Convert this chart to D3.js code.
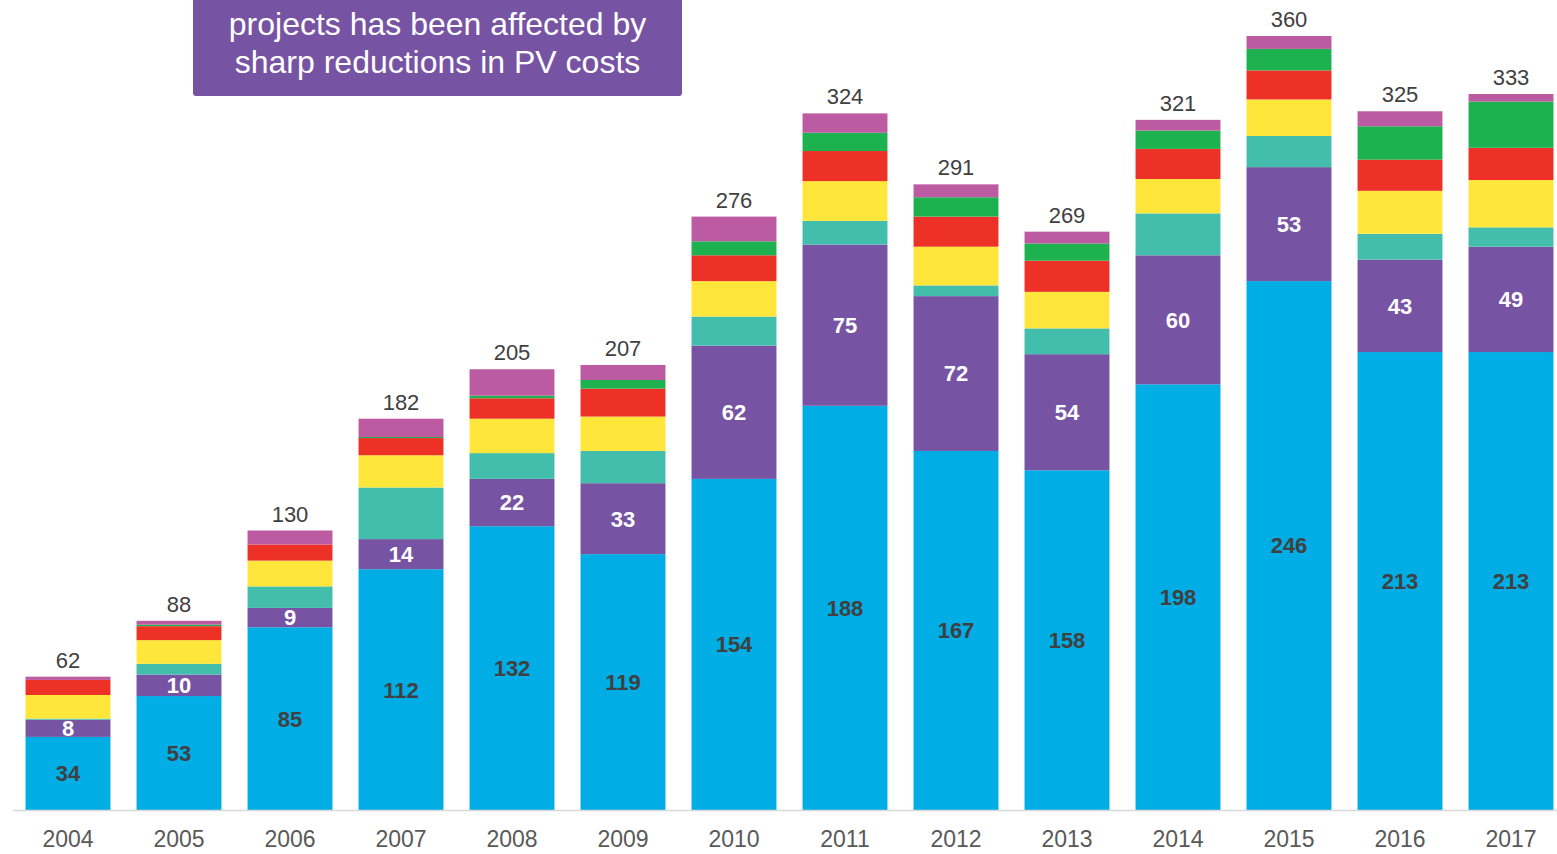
<!DOCTYPE html>
<html>
<head>
<meta charset="utf-8">
<script src="https://cdn.jsdelivr.net/npm/d3@7/dist/d3.min.js"></script>
<style>
  html, body { margin: 0; padding: 0; background: #ffffff; }
  svg { display: block; font-family: "Liberation Sans", Arial, sans-serif; }
</style>
</head>
<body>
<svg id="chart" width="1557" height="854"></svg>
<script>
// Years on the x axis
const years = ["2004","2005","2006","2007","2008","2009","2010","2011","2012","2013","2014","2015","2016","2017"];

// Stacked series, bottom to top
const blue   = [34, 53, 85, 112, 132, 119, 154, 188, 167, 158, 198, 246, 213, 213];
const purple = [8, 10, 9, 14, 22, 33, 62, 75, 72, 54, 60, 53, 43, 49];
const teal   = [0.5, 5, 10, 24, 12, 15, 13.5, 11, 5, 12, 19.5, 14.5, 12, 9];
const yellow = [11, 11, 12, 15, 16, 16, 16.5, 18.5, 18, 17, 16, 17, 20, 22];
const red    = [7, 6.5, 7.5, 8, 9.5, 13, 12, 14, 14, 14.5, 14, 13.5, 14.5, 15];
const green  = [0, 0.7, 0, 0.5, 1.2, 4, 6.5, 8.5, 9, 8, 8.5, 10, 15.5, 21.5];
const pink   = [1.5, 1.8, 6.5, 8.5, 12.3, 7, 11.5, 9, 6, 5.5, 5, 6, 7, 3.5];

// Bar totals shown above each column
const totals = [62, 88, 130, 182, 205, 207, 276, 324, 291, 269, 321, 360, 325, 333];

const seriesKeys = ["blue", "purple", "teal", "yellow", "red", "green", "pink"];
const seriesValues = { blue, purple, teal, yellow, red, green, pink };
const seriesColors = {
  blue: "#00ADE4", purple: "#7753A4", teal: "#43BEAC", yellow: "#FFE63A",
  red: "#EE3126", green: "#1DB14F", pink: "#BC5BA1"
};
// Series whose values are written inside the segments
const labelled = { blue: "#404040", purple: "#ffffff" };

const table = years.map((yr, i) => {
  const row = { year: yr };
  seriesKeys.forEach(k => row[k] = seriesValues[k][i]);
  return row;
});

const svg = d3.select("#chart");

const x = d3.scaleBand()
  .domain(years)
  .range([12.5, 1566.5])
  .paddingInner(0.235)
  .paddingOuter(0.1175);

const y = d3.scaleLinear()
  .domain([0, 360])
  .range([810, 36]);

const stacked = d3.stack().keys(seriesKeys)(table);

// Stacked segments
const layers = svg.append("g")
  .selectAll("g")
  .data(stacked)
  .join("g")
  .attr("fill", d => seriesColors[d.key]);

layers.selectAll("rect")
  .data(d => d)
  .join("rect")
  .attr("x", d => x(d.data.year))
  .attr("width", x.bandwidth())
  .attr("y", d => y(d[1]))
  .attr("height", d => Math.max(0, y(d[0]) - y(d[1])));

// Values inside the blue and purple segments
stacked.filter(s => labelled[s.key]).forEach(s => {
  svg.append("g")
    .selectAll("text")
    .data(s)
    .join("text")
    .attr("x", d => x(d.data.year) + x.bandwidth() / 2)
    .attr("y", d => (y(d[0]) + y(d[1])) / 2)
    .attr("dy", "0.36em")
    .attr("text-anchor", "middle")
    .attr("font-size", 22)
    .attr("font-weight", "bold")
    .attr("fill", labelled[s.key])
    .text(d => d.data[s.key]);
});

// Totals above bars
svg.append("g")
  .selectAll("text")
  .data(years)
  .join("text")
  .attr("x", d => x(d) + x.bandwidth() / 2)
  .attr("y", (d, i) => y(totals[i]) - 9)
  .attr("text-anchor", "middle")
  .attr("font-size", 22)
  .attr("fill", "#404040")
  .text((d, i) => totals[i]);

// X axis
const axis = svg.append("g")
  .attr("transform", "translate(0,810)")
  .call(d3.axisBottom(x).tickSize(0).tickPadding(0));
axis.select(".domain").attr("stroke", "#d9d9d9").attr("stroke-width", 1.5);
axis.selectAll(".tick text")
  .attr("y", 37)
  .attr("dy", 0)
  .attr("font-size", 23)
  .attr("font-family", "\"Liberation Sans\", Arial, sans-serif")
  .attr("fill", "#595959");

// Callout box at the top
const note = svg.append("g");
note.append("rect")
  .attr("x", 193).attr("y", -6)
  .attr("width", 489).attr("height", 102)
  .attr("rx", 3)
  .attr("fill", "#7753A4");
note.append("text")
  .attr("x", 437.5).attr("y", 35)
  .attr("text-anchor", "middle")
  .attr("font-size", 32)
  .attr("fill", "#ffffff")
  .text("projects has been affected by");
note.append("text")
  .attr("x", 437.5).attr("y", 73)
  .attr("text-anchor", "middle")
  .attr("font-size", 32)
  .attr("fill", "#ffffff")
  .text("sharp reductions in PV costs");
</script>
</body>
</html>
